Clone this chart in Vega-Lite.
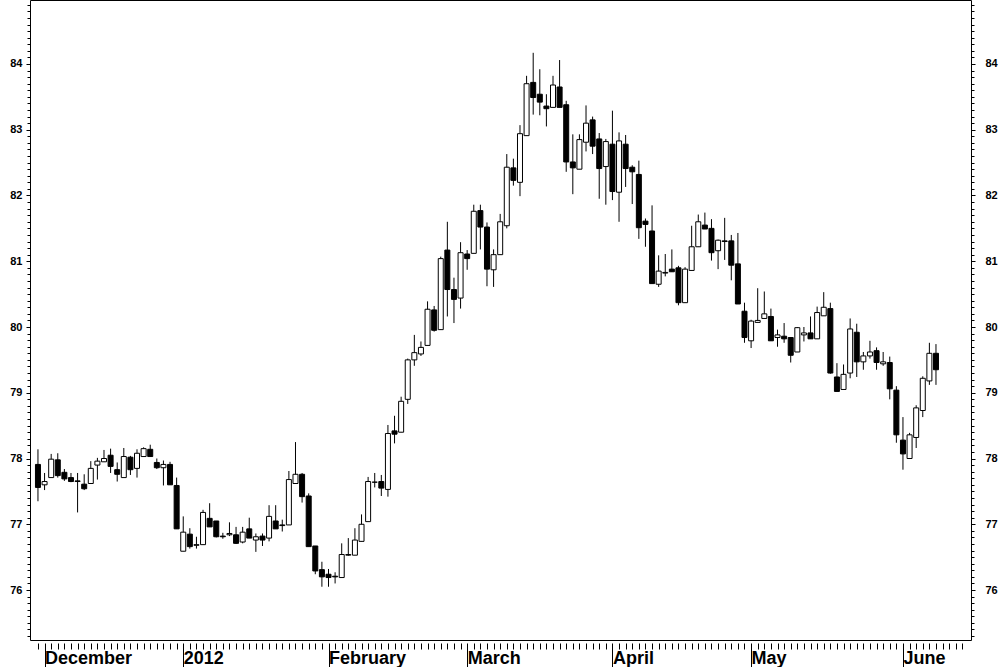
{
  "$schema": "https://vega.github.io/schema/vega-lite/v6.json",
  "width": 941,
  "height": 640,
  "autosize": "none",
  "padding": {"left": 30, "top": 0, "right": 29, "bottom": 27},
  "background": "white",
  "config": {
    "view": {"stroke": "black", "strokeWidth": 1},
    "axis": {"labelFont": "Liberation Sans, Arial, sans-serif", "labelFontWeight": "bold", "labelColor": "black", "tickColor": "black", "domain": false, "grid": false, "title": null}
  },
  "data": {"values": [
    {"i":0,"d":"2011-11-30","o":77.91,"h":78.14,"l":77.35,"c":77.56},
    {"i":1,"d":"2011-12-01","o":77.60,"h":77.78,"l":77.52,"c":77.65},
    {"i":2,"d":"2011-12-02","o":77.71,"h":78.07,"l":77.71,"c":77.99},
    {"i":3,"d":"2011-12-05","o":77.98,"h":78.08,"l":77.71,"c":77.74},
    {"i":4,"d":"2011-12-06","o":77.79,"h":77.84,"l":77.66,"c":77.69},
    {"i":5,"d":"2011-12-07","o":77.71,"h":77.78,"l":77.64,"c":77.65},
    {"i":6,"d":"2011-12-08","o":77.66,"h":77.78,"l":77.18,"c":77.65},
    {"i":7,"d":"2011-12-09","o":77.61,"h":77.76,"l":77.52,"c":77.54},
    {"i":8,"d":"2011-12-12","o":77.62,"h":77.96,"l":77.62,"c":77.85},
    {"i":9,"d":"2011-12-13","o":77.90,"h":78.01,"l":77.68,"c":77.96},
    {"i":10,"d":"2011-12-14","o":77.95,"h":78.13,"l":77.95,"c":78.00},
    {"i":11,"d":"2011-12-15","o":78.05,"h":78.15,"l":77.78,"c":77.88},
    {"i":12,"d":"2011-12-16","o":77.83,"h":77.94,"l":77.65,"c":77.76},
    {"i":13,"d":"2011-12-19","o":77.71,"h":78.16,"l":77.71,"c":78.03},
    {"i":14,"d":"2011-12-20","o":78.02,"h":78.04,"l":77.75,"c":77.83},
    {"i":15,"d":"2011-12-21","o":77.85,"h":78.14,"l":77.71,"c":78.08},
    {"i":16,"d":"2011-12-22","o":78.03,"h":78.17,"l":78.03,"c":78.15},
    {"i":17,"d":"2011-12-23","o":78.14,"h":78.21,"l":78.03,"c":78.03},
    {"i":18,"d":"2011-12-27","o":77.94,"h":78.00,"l":77.84,"c":77.86},
    {"i":19,"d":"2011-12-28","o":77.86,"h":77.97,"l":77.59,"c":77.91},
    {"i":20,"d":"2011-12-29","o":77.91,"h":77.95,"l":77.60,"c":77.60},
    {"i":21,"d":"2011-12-30","o":77.59,"h":77.71,"l":76.93,"c":76.93},
    {"i":22,"d":"2012-01-02","o":76.59,"h":77.12,"l":76.59,"c":76.88},
    {"i":23,"d":"2012-01-03","o":76.85,"h":76.94,"l":76.63,"c":76.66},
    {"i":24,"d":"2012-01-04","o":76.68,"h":76.81,"l":76.63,"c":76.69},
    {"i":25,"d":"2012-01-05","o":76.69,"h":77.22,"l":76.69,"c":77.18},
    {"i":26,"d":"2012-01-06","o":77.09,"h":77.32,"l":76.96,"c":76.96},
    {"i":27,"d":"2012-01-09","o":77.05,"h":77.05,"l":76.80,"c":76.81},
    {"i":28,"d":"2012-01-10","o":76.82,"h":76.87,"l":76.78,"c":76.81},
    {"i":29,"d":"2012-01-11","o":76.84,"h":77.03,"l":76.82,"c":76.86},
    {"i":30,"d":"2012-01-12","o":76.84,"h":76.96,"l":76.70,"c":76.71},
    {"i":31,"d":"2012-01-13","o":76.73,"h":76.96,"l":76.71,"c":76.88},
    {"i":32,"d":"2012-01-16","o":76.93,"h":77.10,"l":76.79,"c":76.79},
    {"i":33,"d":"2012-01-17","o":76.76,"h":76.86,"l":76.58,"c":76.81},
    {"i":34,"d":"2012-01-18","o":76.82,"h":76.86,"l":76.67,"c":76.76},
    {"i":35,"d":"2012-01-19","o":76.79,"h":77.29,"l":76.74,"c":77.12},
    {"i":36,"d":"2012-01-20","o":77.05,"h":77.29,"l":76.93,"c":76.93},
    {"i":37,"d":"2012-01-23","o":76.99,"h":77.07,"l":76.89,"c":76.98},
    {"i":38,"d":"2012-01-24","o":76.99,"h":77.81,"l":76.99,"c":77.68},
    {"i":39,"d":"2012-01-25","o":77.62,"h":78.25,"l":77.62,"c":77.76},
    {"i":40,"d":"2012-01-26","o":77.76,"h":77.78,"l":77.33,"c":77.42},
    {"i":41,"d":"2012-01-27","o":77.43,"h":77.47,"l":76.66,"c":76.66},
    {"i":42,"d":"2012-01-30","o":76.67,"h":76.67,"l":76.24,"c":76.29},
    {"i":43,"d":"2012-01-31","o":76.31,"h":76.43,"l":76.05,"c":76.20},
    {"i":44,"d":"2012-02-01","o":76.24,"h":76.32,"l":76.05,"c":76.19},
    {"i":45,"d":"2012-02-02","o":76.21,"h":76.27,"l":76.10,"c":76.20},
    {"i":46,"d":"2012-02-03","o":76.19,"h":76.71,"l":76.19,"c":76.54},
    {"i":47,"d":"2012-02-06","o":76.53,"h":76.79,"l":76.52,"c":76.54},
    {"i":48,"d":"2012-02-07","o":76.53,"h":76.94,"l":76.53,"c":76.76},
    {"i":49,"d":"2012-02-08","o":76.74,"h":77.15,"l":76.74,"c":77.00},
    {"i":50,"d":"2012-02-09","o":77.04,"h":77.72,"l":77.04,"c":77.65},
    {"i":51,"d":"2012-02-10","o":77.64,"h":77.78,"l":77.56,"c":77.64},
    {"i":52,"d":"2012-02-13","o":77.65,"h":77.75,"l":77.43,"c":77.55},
    {"i":53,"d":"2012-02-14","o":77.53,"h":78.51,"l":77.42,"c":78.38},
    {"i":54,"d":"2012-02-15","o":78.42,"h":78.65,"l":78.23,"c":78.37},
    {"i":55,"d":"2012-02-16","o":78.40,"h":78.94,"l":78.40,"c":78.87},
    {"i":56,"d":"2012-02-17","o":78.90,"h":79.52,"l":78.83,"c":79.50},
    {"i":57,"d":"2012-02-20","o":79.50,"h":79.88,"l":79.41,"c":79.61},
    {"i":58,"d":"2012-02-21","o":79.59,"h":79.78,"l":79.56,"c":79.69},
    {"i":59,"d":"2012-02-22","o":79.72,"h":80.39,"l":79.72,"c":80.27},
    {"i":60,"d":"2012-02-23","o":80.26,"h":80.32,"l":79.93,"c":79.95},
    {"i":61,"d":"2012-02-24","o":79.96,"h":81.07,"l":79.96,"c":81.04},
    {"i":62,"d":"2012-02-27","o":81.17,"h":81.60,"l":80.16,"c":80.57},
    {"i":63,"d":"2012-02-28","o":80.57,"h":80.75,"l":80.06,"c":80.42},
    {"i":64,"d":"2012-02-29","o":80.44,"h":81.29,"l":80.28,"c":81.13},
    {"i":65,"d":"2012-03-01","o":81.11,"h":81.17,"l":80.87,"c":81.04},
    {"i":66,"d":"2012-03-02","o":81.12,"h":81.86,"l":81.12,"c":81.76},
    {"i":67,"d":"2012-03-05","o":81.77,"h":81.86,"l":81.18,"c":81.52},
    {"i":68,"d":"2012-03-06","o":81.52,"h":81.59,"l":80.62,"c":80.88},
    {"i":69,"d":"2012-03-07","o":80.87,"h":81.18,"l":80.61,"c":81.10},
    {"i":70,"d":"2012-03-08","o":81.10,"h":81.72,"l":81.10,"c":81.60},
    {"i":71,"d":"2012-03-09","o":81.54,"h":82.63,"l":81.50,"c":82.43},
    {"i":72,"d":"2012-03-12","o":82.42,"h":82.56,"l":82.15,"c":82.23},
    {"i":73,"d":"2012-03-13","o":82.20,"h":83.07,"l":81.99,"c":82.94},
    {"i":74,"d":"2012-03-14","o":82.91,"h":83.82,"l":82.91,"c":83.70},
    {"i":75,"d":"2012-03-15","o":83.72,"h":84.17,"l":83.23,"c":83.49},
    {"i":76,"d":"2012-03-16","o":83.54,"h":83.92,"l":83.22,"c":83.42},
    {"i":77,"d":"2012-03-19","o":83.36,"h":83.54,"l":83.05,"c":83.32},
    {"i":78,"d":"2012-03-20","o":83.34,"h":83.82,"l":83.34,"c":83.68},
    {"i":79,"d":"2012-03-21","o":83.65,"h":84.06,"l":83.34,"c":83.34},
    {"i":80,"d":"2012-03-22","o":83.38,"h":83.44,"l":82.36,"c":82.51},
    {"i":81,"d":"2012-03-23","o":82.51,"h":82.93,"l":82.02,"c":82.42},
    {"i":82,"d":"2012-03-26","o":82.40,"h":82.93,"l":82.40,"c":82.85},
    {"i":83,"d":"2012-03-27","o":82.81,"h":83.37,"l":82.67,"c":83.10},
    {"i":84,"d":"2012-03-28","o":83.15,"h":83.20,"l":82.63,"c":82.75},
    {"i":85,"d":"2012-03-29","o":82.86,"h":82.95,"l":81.95,"c":82.41},
    {"i":86,"d":"2012-03-30","o":82.44,"h":82.86,"l":81.86,"c":82.82},
    {"i":87,"d":"2012-04-02","o":82.78,"h":83.29,"l":81.93,"c":82.06},
    {"i":88,"d":"2012-04-03","o":82.05,"h":82.96,"l":81.60,"c":82.83},
    {"i":89,"d":"2012-04-04","o":82.78,"h":82.92,"l":82.13,"c":82.41},
    {"i":90,"d":"2012-04-05","o":82.43,"h":82.46,"l":81.87,"c":82.36},
    {"i":91,"d":"2012-04-06","o":82.32,"h":82.53,"l":81.34,"c":81.51},
    {"i":92,"d":"2012-04-09","o":81.61,"h":81.65,"l":81.22,"c":81.56},
    {"i":93,"d":"2012-04-10","o":81.46,"h":81.85,"l":80.66,"c":80.66},
    {"i":94,"d":"2012-04-11","o":80.65,"h":81.09,"l":80.61,"c":80.85},
    {"i":95,"d":"2012-04-12","o":80.82,"h":81.11,"l":80.77,"c":80.83},
    {"i":96,"d":"2012-04-13","o":80.88,"h":81.18,"l":80.84,"c":80.84},
    {"i":97,"d":"2012-04-16","o":80.90,"h":80.93,"l":80.33,"c":80.37},
    {"i":98,"d":"2012-04-17","o":80.37,"h":80.91,"l":80.37,"c":80.88},
    {"i":99,"d":"2012-04-18","o":80.86,"h":81.54,"l":80.86,"c":81.22},
    {"i":100,"d":"2012-04-19","o":81.22,"h":81.71,"l":81.22,"c":81.60},
    {"i":101,"d":"2012-04-20","o":81.55,"h":81.74,"l":81.49,"c":81.49},
    {"i":102,"d":"2012-04-23","o":81.50,"h":81.64,"l":81.01,"c":81.13},
    {"i":103,"d":"2012-04-24","o":81.16,"h":81.33,"l":80.88,"c":81.32},
    {"i":104,"d":"2012-04-25","o":81.31,"h":81.66,"l":81.02,"c":81.30},
    {"i":105,"d":"2012-04-26","o":81.31,"h":81.40,"l":80.71,"c":80.94},
    {"i":106,"d":"2012-04-27","o":80.96,"h":81.43,"l":80.35,"c":80.35},
    {"i":107,"d":"2012-04-30","o":80.24,"h":80.37,"l":79.76,"c":79.84},
    {"i":108,"d":"2012-05-01","o":79.79,"h":80.11,"l":79.68,"c":80.09},
    {"i":109,"d":"2012-05-02","o":80.07,"h":80.59,"l":80.07,"c":80.10},
    {"i":110,"d":"2012-05-03","o":80.13,"h":80.54,"l":80.13,"c":80.20},
    {"i":111,"d":"2012-05-04","o":80.16,"h":80.28,"l":79.79,"c":79.79},
    {"i":112,"d":"2012-05-07","o":79.84,"h":79.96,"l":79.70,"c":79.88},
    {"i":113,"d":"2012-05-08","o":79.86,"h":80.06,"l":79.76,"c":79.82},
    {"i":114,"d":"2012-05-09","o":79.84,"h":79.84,"l":79.46,"c":79.57},
    {"i":115,"d":"2012-05-10","o":79.62,"h":80.00,"l":79.62,"c":79.99},
    {"i":116,"d":"2012-05-11","o":79.88,"h":80.00,"l":79.78,"c":79.91},
    {"i":117,"d":"2012-05-14","o":79.91,"h":80.16,"l":79.82,"c":79.82},
    {"i":118,"d":"2012-05-15","o":79.82,"h":80.31,"l":79.82,"c":80.22},
    {"i":119,"d":"2012-05-16","o":80.17,"h":80.53,"l":80.17,"c":80.30},
    {"i":120,"d":"2012-05-17","o":80.28,"h":80.37,"l":79.29,"c":79.30},
    {"i":121,"d":"2012-05-18","o":79.24,"h":79.45,"l":79.02,"c":79.02},
    {"i":122,"d":"2012-05-21","o":79.05,"h":79.43,"l":79.05,"c":79.28},
    {"i":123,"d":"2012-05-22","o":79.30,"h":80.13,"l":79.22,"c":79.97},
    {"i":124,"d":"2012-05-23","o":79.92,"h":80.05,"l":79.24,"c":79.47},
    {"i":125,"d":"2012-05-24","o":79.47,"h":79.62,"l":79.35,"c":79.56},
    {"i":126,"d":"2012-05-25","o":79.56,"h":79.79,"l":79.52,"c":79.62},
    {"i":127,"d":"2012-05-28","o":79.64,"h":79.69,"l":79.35,"c":79.46},
    {"i":128,"d":"2012-05-29","o":79.44,"h":79.62,"l":79.41,"c":79.47},
    {"i":129,"d":"2012-05-30","o":79.46,"h":79.55,"l":78.90,"c":79.06},
    {"i":130,"d":"2012-05-31","o":79.04,"h":79.10,"l":78.24,"c":78.36},
    {"i":131,"d":"2012-06-01","o":78.28,"h":78.63,"l":77.83,"c":78.07},
    {"i":132,"d":"2012-06-04","o":78.00,"h":78.39,"l":78.00,"c":78.36},
    {"i":133,"d":"2012-06-05","o":78.32,"h":78.81,"l":78.16,"c":78.77},
    {"i":134,"d":"2012-06-06","o":78.73,"h":79.25,"l":78.63,"c":79.22},
    {"i":135,"d":"2012-06-07","o":79.18,"h":79.76,"l":79.12,"c":79.60},
    {"i":136,"d":"2012-06-08","o":79.60,"h":79.74,"l":79.12,"c":79.35}
  ]},
  "layer": [
    {
      "mark": {"type": "rule", "color": "black", "strokeWidth": 1},
      "encoding": {
        "x": {
          "field": "i", "type": "quantitative",
          "scale": {"domain": [-0.4495, 140.546], "nice": false, "zero": false},
          "axis": {
            "orient": "bottom", "offset": 3, "domain": false, "grid": false, "tickCount": 1000,
            "values": [0,1,2,3,4,5,6,7,8,9,10,11,12,13,14,15,16,17,18,19,20,21,22,23,24,25,26,27,28,29,30,31,32,33,34,35,36,37,38,39,40,41,42,43,44,45,46,47,48,49,50,51,52,53,54,55,56,57,58,59,60,61,62,63,64,65,66,67,68,69,70,71,72,73,74,75,76,77,78,79,80,81,82,83,84,85,86,87,88,89,90,91,92,93,94,95,96,97,98,99,100,101,102,103,104,105,106,107,108,109,110,111,112,113,114,115,116,117,118,119,120,121,122,123,124,125,126,127,128,129,130,131,132,133,134,135,136,137,138,139,140],
            "tickSize": {"condition": {"test": "indexof([1,22,44,65,87,108,131], datum.value) >= 0", "value": 24}, "value": 6},
            "labelExpr": "datum.value == 1 ? 'December' : datum.value == 22 ? '2012' : datum.value == 44 ? 'February' : datum.value == 65 ? 'March' : datum.value == 87 ? 'April' : datum.value == 108 ? 'May' : datum.value == 131 ? 'June' : ''",
            "labelAlign": "left", "labelBaseline": "top", "labelFontSize": 18,
            "labelOffset": 0, "labelPadding": -18, "labelOverlap": false, "labelFlush": false, "labelBound": false
          }
        },
        "y": {
          "field": "l", "type": "quantitative",
          "scale": {"domain": [75.24, 84.973], "nice": false, "zero": false},
          "axis": {
            "orient": "left", "domain": false, "grid": false, "tickCount": 1000,
            "values": [75.3,75.4,75.5,75.6,75.7,75.8,75.9,76,76.1,76.2,76.3,76.4,76.5,76.6,76.7,76.8,76.9,77,77.1,77.2,77.3,77.4,77.5,77.6,77.7,77.8,77.9,78,78.1,78.2,78.3,78.4,78.5,78.6,78.7,78.8,78.9,79,79.1,79.2,79.3,79.4,79.5,79.6,79.7,79.8,79.9,80,80.1,80.2,80.3,80.4,80.5,80.6,80.7,80.8,80.9,81,81.1,81.2,81.3,81.4,81.5,81.6,81.7,81.8,81.9,82,82.1,82.2,82.3,82.4,82.5,82.6,82.7,82.8,82.9,83,83.1,83.2,83.3,83.4,83.5,83.6,83.7,83.8,83.9,84,84.1,84.2,84.3,84.4,84.5,84.6,84.7,84.8,84.9],
            "tickSize": {"condition": {"test": "abs(datum.value - round(datum.value)) < 0.01", "value": 4}, "value": 3},
            "labelExpr": "abs(datum.value - round(datum.value)) < 0.01 ? format(round(datum.value), 'd') : ''",
            "labelFontSize": 11, "labelPadding": 4, "labelOverlap": false, "labelFlush": false
          }
        },
        "y2": {"field": "h"}
      }
    },
    {
      "mark": {"type": "bar", "width": 5, "stroke": "black", "strokeWidth": 1},
      "encoding": {
        "x": {"field": "i", "type": "quantitative"},
        "y": {
          "field": "o", "type": "quantitative",
          "scale": {"domain": [75.24, 84.973], "nice": false, "zero": false},
          "axis": {
            "orient": "right", "domain": false, "grid": false, "tickCount": 1000,
            "values": [75.3,75.4,75.5,75.6,75.7,75.8,75.9,76,76.1,76.2,76.3,76.4,76.5,76.6,76.7,76.8,76.9,77,77.1,77.2,77.3,77.4,77.5,77.6,77.7,77.8,77.9,78,78.1,78.2,78.3,78.4,78.5,78.6,78.7,78.8,78.9,79,79.1,79.2,79.3,79.4,79.5,79.6,79.7,79.8,79.9,80,80.1,80.2,80.3,80.4,80.5,80.6,80.7,80.8,80.9,81,81.1,81.2,81.3,81.4,81.5,81.6,81.7,81.8,81.9,82,82.1,82.2,82.3,82.4,82.5,82.6,82.7,82.8,82.9,83,83.1,83.2,83.3,83.4,83.5,83.6,83.7,83.8,83.9,84,84.1,84.2,84.3,84.4,84.5,84.6,84.7,84.8,84.9],
            "tickSize": {"condition": {"test": "abs(datum.value - round(datum.value)) < 0.01", "value": 4}, "value": 3},
            "labelExpr": "abs(datum.value - round(datum.value)) < 0.01 ? format(round(datum.value), 'd') : ''",
            "labelFontSize": 11, "labelPadding": 10, "labelOverlap": false, "labelFlush": false
          }
        },
        "y2": {"field": "c"},
        "fill": {"condition": {"test": "datum.c < datum.o", "value": "black"}, "value": "white"}
      }
    }
  ],
  "resolve": {"axis": {"y": "independent"}}
}
